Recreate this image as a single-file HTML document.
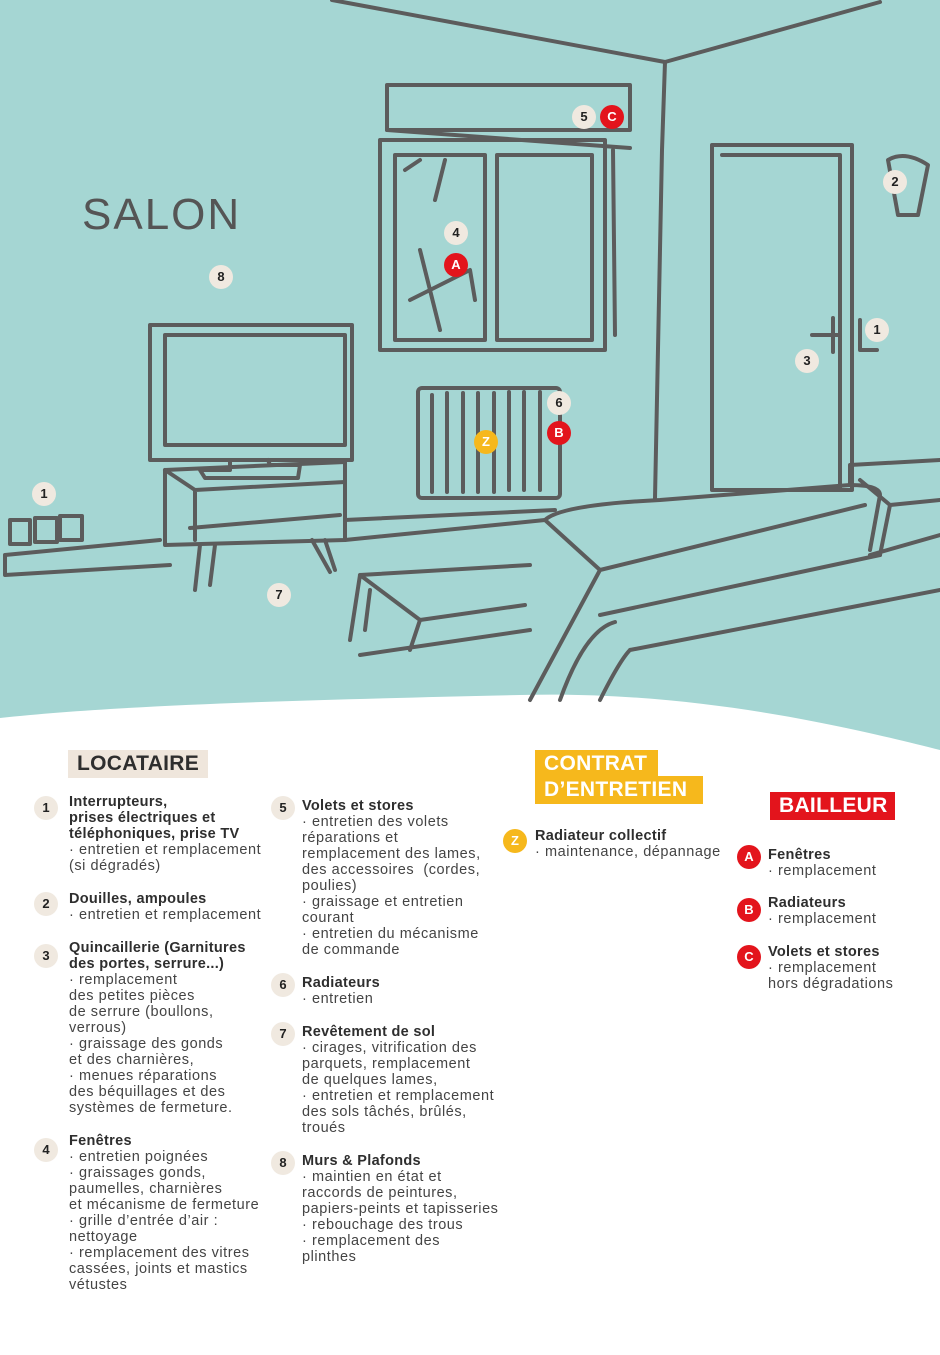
<!DOCTYPE html>
<html><head><meta charset="utf-8">
<style>
*{margin:0;padding:0;box-sizing:border-box}
body{width:940px;height:1355px;background:#fff;position:relative;overflow:hidden;font-family:"Liberation Sans",sans-serif;color:#3a3a3a}
svg{position:absolute;left:0;top:0}
.it{position:absolute;font-size:14.5px;line-height:16px;letter-spacing:0.55px;color:#444;white-space:nowrap}
.it b{font-weight:bold;color:#2e2e2e;letter-spacing:0.3px}
.c{position:absolute;width:24px;height:24px;border-radius:50%;background:#f0e9e0;font-weight:bold;font-size:13px;line-height:24px;text-align:center;color:#222}
.r{background:#e3141c;color:#fff}
.y{background:#f6b81c;color:#fff}
.h{position:absolute;font-weight:bold;font-size:21px;line-height:28px;padding:0 9px;letter-spacing:0.3px}
</style></head><body>
<svg width="940" height="760" viewBox="0 0 940 760">
<path d="M0 0H940V750C860 730 700 690 520 695C300 700 120 705 0 718Z" fill="#a5d6d3"/>
<g fill="none" stroke="#5c5c5c" stroke-width="4" stroke-linecap="round" stroke-linejoin="round">
<path d="M332 0L665 62L880 2"/>
<path d="M665 62L662 150L655 498"/>
<rect x="387" y="85" width="243" height="45"/>
<path d="M387 130L630 148"/>
<rect x="380" y="140" width="225" height="210"/>
<rect x="395" y="155" width="90" height="185"/>
<rect x="497" y="155" width="95" height="185"/>
<path d="M405 170L420 160M420 250L440 330M410 300L470 270L475 300M435 200L445 160"/>
<path d="M613 150L615 335"/>
<rect x="712" y="145" width="140" height="345"/>
<path d="M722 155H840V488"/>
<path d="M812 335H838M833 318V352M860 320V350H877"/>
<path d="M888 160Q905 150 928 165L918 215H898Z"/>
<rect x="150" y="325" width="202" height="135"/>
<rect x="165" y="335" width="180" height="110"/>
<path d="M230 460V470H200L205 478H298L300 465H270L268 460"/>
<path d="M165 470L345 462V540L165 545Z"/>
<path d="M190 528L340 515M165 470L195 490V540M195 490L345 482"/>
<path d="M200 545L195 590M215 545L210 585M312 540L330 572M325 540L335 570"/>
<path d="M5 555L160 540M5 575L170 565M5 555V575"/>
<rect x="10" y="520" width="20" height="24"/><rect x="35" y="518" width="22" height="24"/><rect x="60" y="516" width="22" height="24"/>
<path d="M345 520L555 510M345 540L545 520"/>
<rect x="418" y="388" width="142" height="110" rx="4"/>
<path d="M432 395V492M447 393V492M463 393V492M478 393V492M494 393V492M509 392V490M524 392V490M540 392V490"/>
<path d="M545 520Q560 505 660 500L850 485Q880 485 880 495L870 550"/>
<path d="M545 520L600 570L530 700M600 570L865 505"/>
<path d="M850 485L850 465L940 460M860 480L890 505L880 555M890 505L940 500M870 555L940 535"/>
<path d="M600 615L880 555M615 622Q585 630 560 700M630 650Q620 660 600 700M630 650L940 590"/>
<path d="M360 575L530 565M360 575L420 620L525 605M360 575L350 640M420 620L410 650M370 590L365 630M360 655L530 630"/>
</g>
<text x="82" y="229" font-family="Liberation Sans" font-size="44" fill="#555" letter-spacing="2">SALON</text>
</svg>
<div class="c" style="left:572px;top:105px">5</div>
<div class="c r" style="left:600px;top:105px">C</div>
<div class="c" style="left:883px;top:170px">2</div>
<div class="c" style="left:444px;top:221px">4</div>
<div class="c r" style="left:444px;top:253px">A</div>
<div class="c" style="left:209px;top:265px">8</div>
<div class="c" style="left:865px;top:318px">1</div>
<div class="c" style="left:795px;top:349px">3</div>
<div class="c" style="left:547px;top:391px">6</div>
<div class="c r" style="left:547px;top:421px">B</div>
<div class="c y" style="left:474px;top:430px">Z</div>
<div class="c" style="left:32px;top:482px">1</div>
<div class="c" style="left:267px;top:583px">7</div>

<div class="h" style="left:68px;top:750px;width:140px;background:#efe6dc;color:#2e2e2e">LOCATAIRE</div>
<div class="h" style="left:535px;top:750px;width:123px;height:28px;background:#f6b81c;color:#fff">CONTRAT</div>
<div class="h" style="left:535px;top:776px;width:168px;height:28px;background:#f6b81c;color:#fff">D’ENTRETIEN</div>
<div class="h" style="left:770px;top:792px;width:125px;background:#e3141c;color:#fff">BAILLEUR</div>

<div class="c" style="left:34px;top:796px">1</div>
<div class="it" style="left:69px;top:794px"><b>Interrupteurs,<br>prises électriques et<br>téléphoniques, prise TV</b><br>· entretien et remplacement<br>(si dégradés)</div>
<div class="c" style="left:34px;top:892px">2</div>
<div class="it" style="left:69px;top:891px"><b>Douilles, ampoules</b><br>· entretien et remplacement</div>
<div class="c" style="left:34px;top:944px">3</div>
<div class="it" style="left:69px;top:940px"><b>Quincaillerie (Garnitures<br>des portes, serrure...)</b><br>· remplacement<br>des petites pièces<br>de serrure (boullons,<br>verrous)<br>· graissage des gonds<br>et des charnières,<br>· menues réparations<br>des béquillages et des<br>systèmes de fermeture.</div>
<div class="c" style="left:34px;top:1138px">4</div>
<div class="it" style="left:69px;top:1133px"><b>Fenêtres</b><br>· entretien poignées<br>· graissages gonds,<br>paumelles, charnières<br>et mécanisme de fermeture<br>· grille d’entrée d’air :<br>nettoyage<br>· remplacement des vitres<br>cassées, joints et mastics<br>vétustes</div>

<div class="c" style="left:271px;top:796px">5</div>
<div class="it" style="left:302px;top:798px"><b>Volets et stores</b><br>· entretien des volets<br>réparations et<br>remplacement des lames,<br>des accessoires &nbsp;(cordes,<br>poulies)<br>· graissage et entretien<br>courant<br>· entretien du mécanisme<br>de commande</div>
<div class="c" style="left:271px;top:973px">6</div>
<div class="it" style="left:302px;top:975px"><b>Radiateurs</b><br>· entretien</div>
<div class="c" style="left:271px;top:1022px">7</div>
<div class="it" style="left:302px;top:1024px"><b>Revêtement de sol</b><br>· cirages, vitrification des<br>parquets, remplacement<br>de quelques lames,<br>· entretien et remplacement<br>des sols tâchés, brûlés,<br>troués</div>
<div class="c" style="left:271px;top:1151px">8</div>
<div class="it" style="left:302px;top:1153px"><b>Murs &amp; Plafonds</b><br>· maintien en état et<br>raccords de peintures,<br>papiers-peints et tapisseries<br>· rebouchage des trous<br>· remplacement des<br>plinthes</div>

<div class="c y" style="left:503px;top:829px">Z</div>
<div class="it" style="left:535px;top:828px"><b>Radiateur collectif</b><br>· maintenance, dépannage</div>

<div class="c r" style="left:737px;top:845px">A</div>
<div class="it" style="left:768px;top:847px"><b>Fenêtres</b><br>· remplacement</div>
<div class="c r" style="left:737px;top:898px">B</div>
<div class="it" style="left:768px;top:895px"><b>Radiateurs</b><br>· remplacement</div>
<div class="c r" style="left:737px;top:945px">C</div>
<div class="it" style="left:768px;top:944px"><b>Volets et stores</b><br>· remplacement<br>hors dégradations</div>
</body></html>
